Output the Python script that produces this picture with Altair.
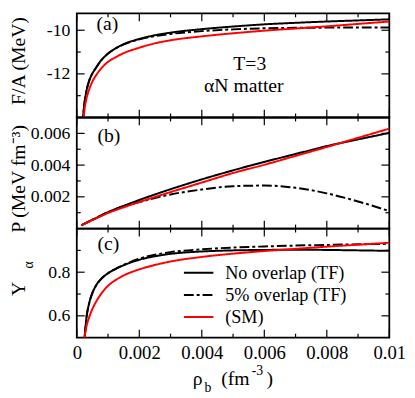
import altair as alt
import pandas as pd

FONT = "Liberation Serif, Times New Roman, serif"

# ---------------- data ----------------
rho = [0.00015, 0.0002, 0.00025, 0.0003, 0.0004, 0.0005, 0.0006, 0.0008, 0.001,
       0.0012, 0.0015, 0.002, 0.0025, 0.003, 0.004, 0.005, 0.006, 0.007, 0.008,
       0.009, 0.01]

series_names = ["No overlap (TF)", "5% overlap (TF)", "(SM)"]
series_colors = ["black", "black", "red"]
series_dashes = [[1, 0], [10, 3, 3, 3], [1, 0]]

# (a) F/A (MeV)
fa_no = [-15.2, -14.0, -13.3, -12.85, -12.3, -11.98, -11.75, -11.35, -11.07,
         -10.87, -10.64, -10.4, -10.23, -10.11, -9.95, -9.83, -9.73, -9.66, -9.6,
         -9.55, -9.5]
fa_5 = [-15.2, -14.0, -13.3, -12.85, -12.3, -11.98, -11.75, -11.35, -11.07,
        -10.87, -10.65, -10.42, -10.27, -10.17, -10.04, -9.96, -9.91, -9.89, -9.88,
        -9.87, -9.87]
fa_sm = [-15.8, -14.4, -13.6, -13.2, -12.7, -12.35, -12.1, -11.72, -11.45,
         -11.27, -11.05, -10.8, -10.6, -10.46, -10.28, -10.14, -10.02, -9.92, -9.82,
         -9.71, -9.6]

# (b) P (MeV fm^-3)
p_no = [0.0002, 0.00026, 0.00031, 0.00036, 0.00046, 0.00056, 0.00065, 0.00085,
        0.00103, 0.0012, 0.00143, 0.0018, 0.00215, 0.00248, 0.0031, 0.00367,
        0.0042, 0.0047, 0.0052, 0.00562, 0.00603]
p_5 = [0.0002, 0.00026, 0.00031, 0.00036, 0.00046, 0.00056, 0.00065, 0.00085,
       0.00103, 0.0012, 0.00141, 0.00167, 0.00193, 0.00215, 0.00246, 0.00267,
       0.00271, 0.00257, 0.00222, 0.00171, 0.0011]
p_sm = [0.0002, 0.00025, 0.0003, 0.00035, 0.00044, 0.00053, 0.00062, 0.0008,
        0.00098, 0.00113, 0.00134, 0.00167, 0.00199, 0.0023, 0.0029, 0.0035,
        0.00402, 0.00458, 0.00514, 0.00572, 0.0063]

# (c) Y_alpha
y_no = [0.25, 0.40, 0.5, 0.58, 0.66, 0.705, 0.735, 0.772, 0.795, 0.812, 0.832,
        0.857, 0.873, 0.884, 0.895, 0.9, 0.902, 0.903, 0.902, 0.9, 0.898]
y_5 = [0.25, 0.40, 0.5, 0.58, 0.66, 0.705, 0.735, 0.772, 0.795, 0.812, 0.833,
       0.862, 0.88, 0.892, 0.905, 0.913, 0.918, 0.922, 0.925, 0.928, 0.93]
y_sm = [0.3, 0.42, 0.5, 0.545, 0.595, 0.632, 0.66, 0.705, 0.738, 0.76, 0.785,
        0.813, 0.833, 0.849, 0.87, 0.885, 0.897, 0.907, 0.917, 0.926, 0.935]

x_major = [0, 0.002, 0.004, 0.006, 0.008, 0.01]
x_minor = [0.001, 0.003, 0.005, 0.007, 0.009]

ya_dom, ya_major, ya_minor = [-14, -9], [-12, -10], [-13, -11]
yb_dom, yb_major, yb_minor = [0, 0.007], [0.002, 0.004, 0.006], [0.001, 0.003, 0.005]
yc_dom, yc_major, yc_minor = [0.5, 1.0], [0.6, 0.8], [0.7, 0.9]

W = 318
MAJ, MIN = 8, 4


def series_df(vals_list):
    rows = []
    for name, vals in zip(series_names, vals_list):
        for r, v in zip(rho, vals):
            rows.append({"rho": r, "val": v, "series": name})
    return pd.DataFrame(rows)


def txt(s, x, y, size=20, angle=0, align="left"):
    return alt.Chart(pd.DataFrame({"s": [s]})).mark_text(
        font=FONT, fontSize=size, align=align, baseline="alphabetic",
        angle=angle, color="black"
    ).encode(text="s:N", x=alt.value(x), y=alt.value(y))


def panel(vals_list, h, ydom, ymaj, ymin, ytitle, title_y, show_x, legend, extras,
          top_cut=0):
    xs = alt.Scale(domain=[0, 0.01], nice=False, zero=False)
    # the top panel's frame sits a few pixels below its nominal upper limit
    ys = alt.Scale(domain=ydom, range=[h, -top_cut], nice=False, zero=False)
    if show_x:
        xaxis = alt.Axis(values=x_major, labelExpr="'' + datum.value", title=None,
                         labelFontSize=19, labelPadding=6, labelFlush=False,
                         labelOverlap=False, labelBound=False)
    else:
        xaxis = None
    yaxis = alt.Axis(values=ymaj, labelExpr="'' + datum.value", title=ytitle,
                     labelFlush=False, labelOverlap=False,
                     titleX=-53, titleY=title_y, titleAngle=270,
                     titleAlign="center", titleBaseline="alphabetic")
    lines = alt.Chart(series_df(vals_list)).mark_line(
        strokeWidth=2, clip=True, interpolate="monotone"
    ).encode(
        x=alt.X("rho:Q", scale=xs, axis=xaxis, title=None),
        y=alt.Y("val:Q", scale=ys, axis=yaxis, title=ytitle),
        color=alt.Color("series:N", sort=series_names,
                        scale=alt.Scale(domain=series_names, range=series_colors),
                        legend=legend),
        strokeDash=alt.StrokeDash("series:N", sort=series_names,
                                  scale=alt.Scale(domain=series_names, range=series_dashes),
                                  legend=legend),
    )
    layers = [lines]
    for vals, ln in ((x_major, MAJ), (x_minor, MIN)):
        base = alt.Chart(pd.DataFrame({"t": vals})).mark_rule(color="black", strokeWidth=1.2)
        xe = alt.X("t:Q", scale=xs, axis=xaxis, title=None)
        layers.append(base.encode(x=xe, y=alt.value(h), y2=alt.value(h - ln)))
        layers.append(base.encode(x=xe, y=alt.value(0), y2=alt.value(ln)))
    for vals, ln in ((ymaj, MAJ), (ymin, MIN)):
        base = alt.Chart(pd.DataFrame({"t": vals})).mark_rule(color="black", strokeWidth=1.2)
        ye = alt.Y("t:Q", scale=ys, axis=yaxis, title=ytitle)
        layers.append(base.encode(y=ye, x=alt.value(0), x2=alt.value(ln)))
        layers.append(base.encode(y=ye, x=alt.value(W), x2=alt.value(W - ln)))
    layers += extras
    return alt.layer(*layers).properties(width=W, height=h)


legend_c = alt.Legend(orient="none", legendX=108, legendY=36, title=None,
                      symbolType="stroke", symbolSize=900, symbolStrokeWidth=2,
                      labelFont=FONT, labelFontSize=18.5, labelColor="black",
                      clipHeight=18, rowPadding=3.5, labelOffset=11, padding=0)

pa = panel([fa_no, fa_5, fa_sm], 106, ya_dom, ya_major, ya_minor, "F/A (MeV)", 48,
           False, None,
           [txt("(a)", 20, 17), txt("T=3", 176, 58, align="center"),
            txt("\u03b1N matter", 170, 80, align="center")],
           top_cut=5)
pb = panel([p_no, p_5, p_sm], 113, yb_dom, yb_major, yb_minor,
           "P (MeV fm\u207b\u00b3)", 62, False, None,
           [txt("(b)", 21, 25)])
pc = panel([y_no, y_5, y_sm], 111, yc_dom, yc_major, yc_minor, "Y", 61, True, legend_c,
           [txt("(c)", 21, 22),
            txt("\u03b1", -45, 37, size=14, angle=270, align="center"),
            txt("\u03c1", 118, 159),
            txt("b", 130, 166, size=14),
            txt("(fm", 147, 159),
            txt("-3", 178, 149, size=14),
            txt(")", 193, 159)])

chart = alt.vconcat(
    pa, pb, pc, spacing=0, bounds="flush"
).resolve_scale(
    color="independent", strokeDash="independent", y="independent"
).resolve_legend(
    color="independent", strokeDash="independent"
).configure(
    padding=0, background="white"
).configure_view(
    stroke="black", strokeWidth=1.8
).configure_axis(
    ticks=False, tickSize=0, domain=False, grid=False,
    labelFont=FONT, labelFontSize=18, labelColor="black", labelPadding=7,
    titleFont=FONT, titleFontSize=20, titleFontWeight="normal", titleColor="black",
)

chart.save("out.html", embed_options={"renderer": "svg", "actions": False})
